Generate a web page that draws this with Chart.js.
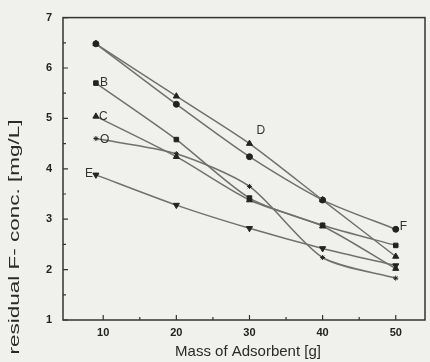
<!DOCTYPE html>
<html>
<head>
<meta charset="utf-8">
<script src="https://cdn.jsdelivr.net/npm/chart.js@4"></script>
<style>
    html, body { margin: 0; padding: 0; background: #f0f0ec; }
    #wrap { width: 430px; height: 362px; }
</style>
</head>
<body>
<div id="wrap"><canvas id="adsorbent"></canvas></div>
<script>
// mass of adsorbent [g]
const masses = [9, 20, 30, 40, 50];

// residual F- concentration [mg/L], one array per curve
const seriesB = [5.70, 4.58, 3.42, 2.88, 2.48];
const seriesC = [5.04, 4.24, 3.38, 2.86, 2.02];
const seriesD = [6.48, 5.44, 4.50, 3.38, 2.26];
const seriesE = [3.88, 3.28, 2.82, 2.42, 2.08];
const seriesF = [6.48, 5.28, 4.24, 3.38, 2.80];
const seriesO = [4.60, 4.30, 3.65, 2.24, 1.83];

const xTicks = [10, 20, 30, 40, 50];
const xMinor = [15, 25, 35, 45];
const yTicks = [1, 2, 3, 4, 5, 6, 7];
const yMinor = [1.5, 2.5, 3.5, 4.5, 5.5, 6.5];

const ink = '#222';
const lineGrey = '#707070';

function points(values) {
    return values.map((v, i) => ({x: masses[i], y: v}));
}

function makeSet(name, values, style, rotation, radius) {
    return {
        label: name,
        data: points(values),
        borderColor: lineGrey,
        borderWidth: 1.5,
        tension: 0.25,
        pointStyle: style,
        rotation: rotation,
        pointRadius: radius,
        pointBackgroundColor: ink,
        pointBorderColor: ink,
        pointBorderWidth: 1
    };
}

// letters next to the curves, anchored on data points
const curveLabels = [
    {text: 'B', set: 0, idx: 0, dx: 4, dy: 0, align: 'left'},
    {text: 'C', set: 1, idx: 0, dx: 3, dy: 0, align: 'left'},
    {text: 'D', set: 2, idx: 2, dx: 7, dy: -13, align: 'left'},
    {text: 'E', set: 3, idx: 0, dx: -3, dy: -1, align: 'right'},
    {text: 'F', set: 4, idx: 4, dx: 4, dy: -3, align: 'left'},
    {text: 'O', set: 5, idx: 0, dx: 4, dy: 1, align: 'left'}
];

const framePlugin = {
    id: 'frame',
    afterDraw(chart) {
        const ctx = chart.ctx;
        const area = chart.chartArea;
        const xs = chart.scales.x;
        const ys = chart.scales.y;
        ctx.save();
        ctx.strokeStyle = '#333';
        ctx.lineWidth = 1.5;
        ctx.strokeRect(area.left, area.top, area.right - area.left, area.bottom - area.top);

        // inward tick marks
        ctx.lineWidth = 1.2;
        ctx.beginPath();
        yTicks.forEach(v => {
            const p = ys.getPixelForValue(v);
            ctx.moveTo(area.left, p); ctx.lineTo(area.left + 5, p);
        });
        yMinor.forEach(v => {
            const p = ys.getPixelForValue(v);
            ctx.moveTo(area.left, p); ctx.lineTo(area.left + 3, p);
        });
        xTicks.forEach(v => {
            const p = xs.getPixelForValue(v);
            ctx.moveTo(p, area.bottom); ctx.lineTo(p, area.bottom - 5);
        });
        xMinor.forEach(v => {
            const p = xs.getPixelForValue(v);
            ctx.moveTo(p, area.bottom); ctx.lineTo(p, area.bottom - 3);
        });
        ctx.stroke();

        // curve letters
        ctx.fillStyle = '#333';
        ctx.font = '12px "Liberation Sans", Arial, sans-serif';
        ctx.textBaseline = 'middle';
        curveLabels.forEach(l => {
            const pt = chart.data.datasets[l.set].data[l.idx];
            ctx.textAlign = l.align;
            ctx.fillText(l.text, xs.getPixelForValue(pt.x) + l.dx, ys.getPixelForValue(pt.y) + l.dy);
        });

        // axis titles (the scanned y title is stretched along its length)
        ctx.fillStyle = '#2a2a2a';
        ctx.font = '15px "Liberation Sans", Arial, sans-serif';
        ctx.textAlign = 'center';
        ctx.fillText('Mass of Adsorbent [g]', 248, 352);
        ctx.translate(15, 237);
        ctx.rotate(-Math.PI / 2);
        ctx.scale(1.5, 1);
        ctx.font = '15px "Liberation Sans", Arial, sans-serif';
        ctx.fillText('residual F- conc. [mg/L]', 0, 0);
        ctx.restore();
    }
};

new Chart(document.getElementById('adsorbent'), {
    type: 'line',
    data: {
        datasets: [
            makeSet('B', seriesB, 'rect', 0, 3.2),
            makeSet('C', seriesC, 'triangle', 0, 3.5),
            makeSet('D', seriesD, 'triangle', 0, 3.5),
            makeSet('E', seriesE, 'triangle', 180, 3.5),
            makeSet('F', seriesF, 'circle', 0, 3),
            makeSet('O', seriesO, 'star', 0, 2.5)
        ]
    },
    options: {
        responsive: true,
        maintainAspectRatio: false,
        animation: false,
        layout: {padding: {top: 16, right: 5, left: 0, bottom: 0}},
        plugins: {
            legend: {display: false},
            tooltip: {enabled: false}
        },
        scales: {
            x: {
                type: 'linear',
                min: 4.5,
                max: 54,
                afterFit: s => { s.height = 42; },
                afterBuildTicks: s => { s.ticks = xTicks.map(v => ({value: v})); },
                grid: {display: false, drawTicks: false},
                border: {display: false},
                ticks: {
                    color: ink,
                    padding: 6,
                    maxRotation: 0,
                    font: {family: '"Liberation Sans", Arial, sans-serif', size: 11, weight: 'bold'}
                }
            },
            y: {
                min: 1,
                max: 7,
                afterFit: s => { s.width = 63; },
                afterBuildTicks: s => { s.ticks = yTicks.map(v => ({value: v})); },
                grid: {display: false, drawTicks: false},
                border: {display: false},
                ticks: {
                    color: ink,
                    padding: 11,
                    font: {family: '"Liberation Sans", Arial, sans-serif', size: 11, weight: 'bold'}
                }
            }
        }
    },
    plugins: [framePlugin]
});
</script>
</body>
</html>
